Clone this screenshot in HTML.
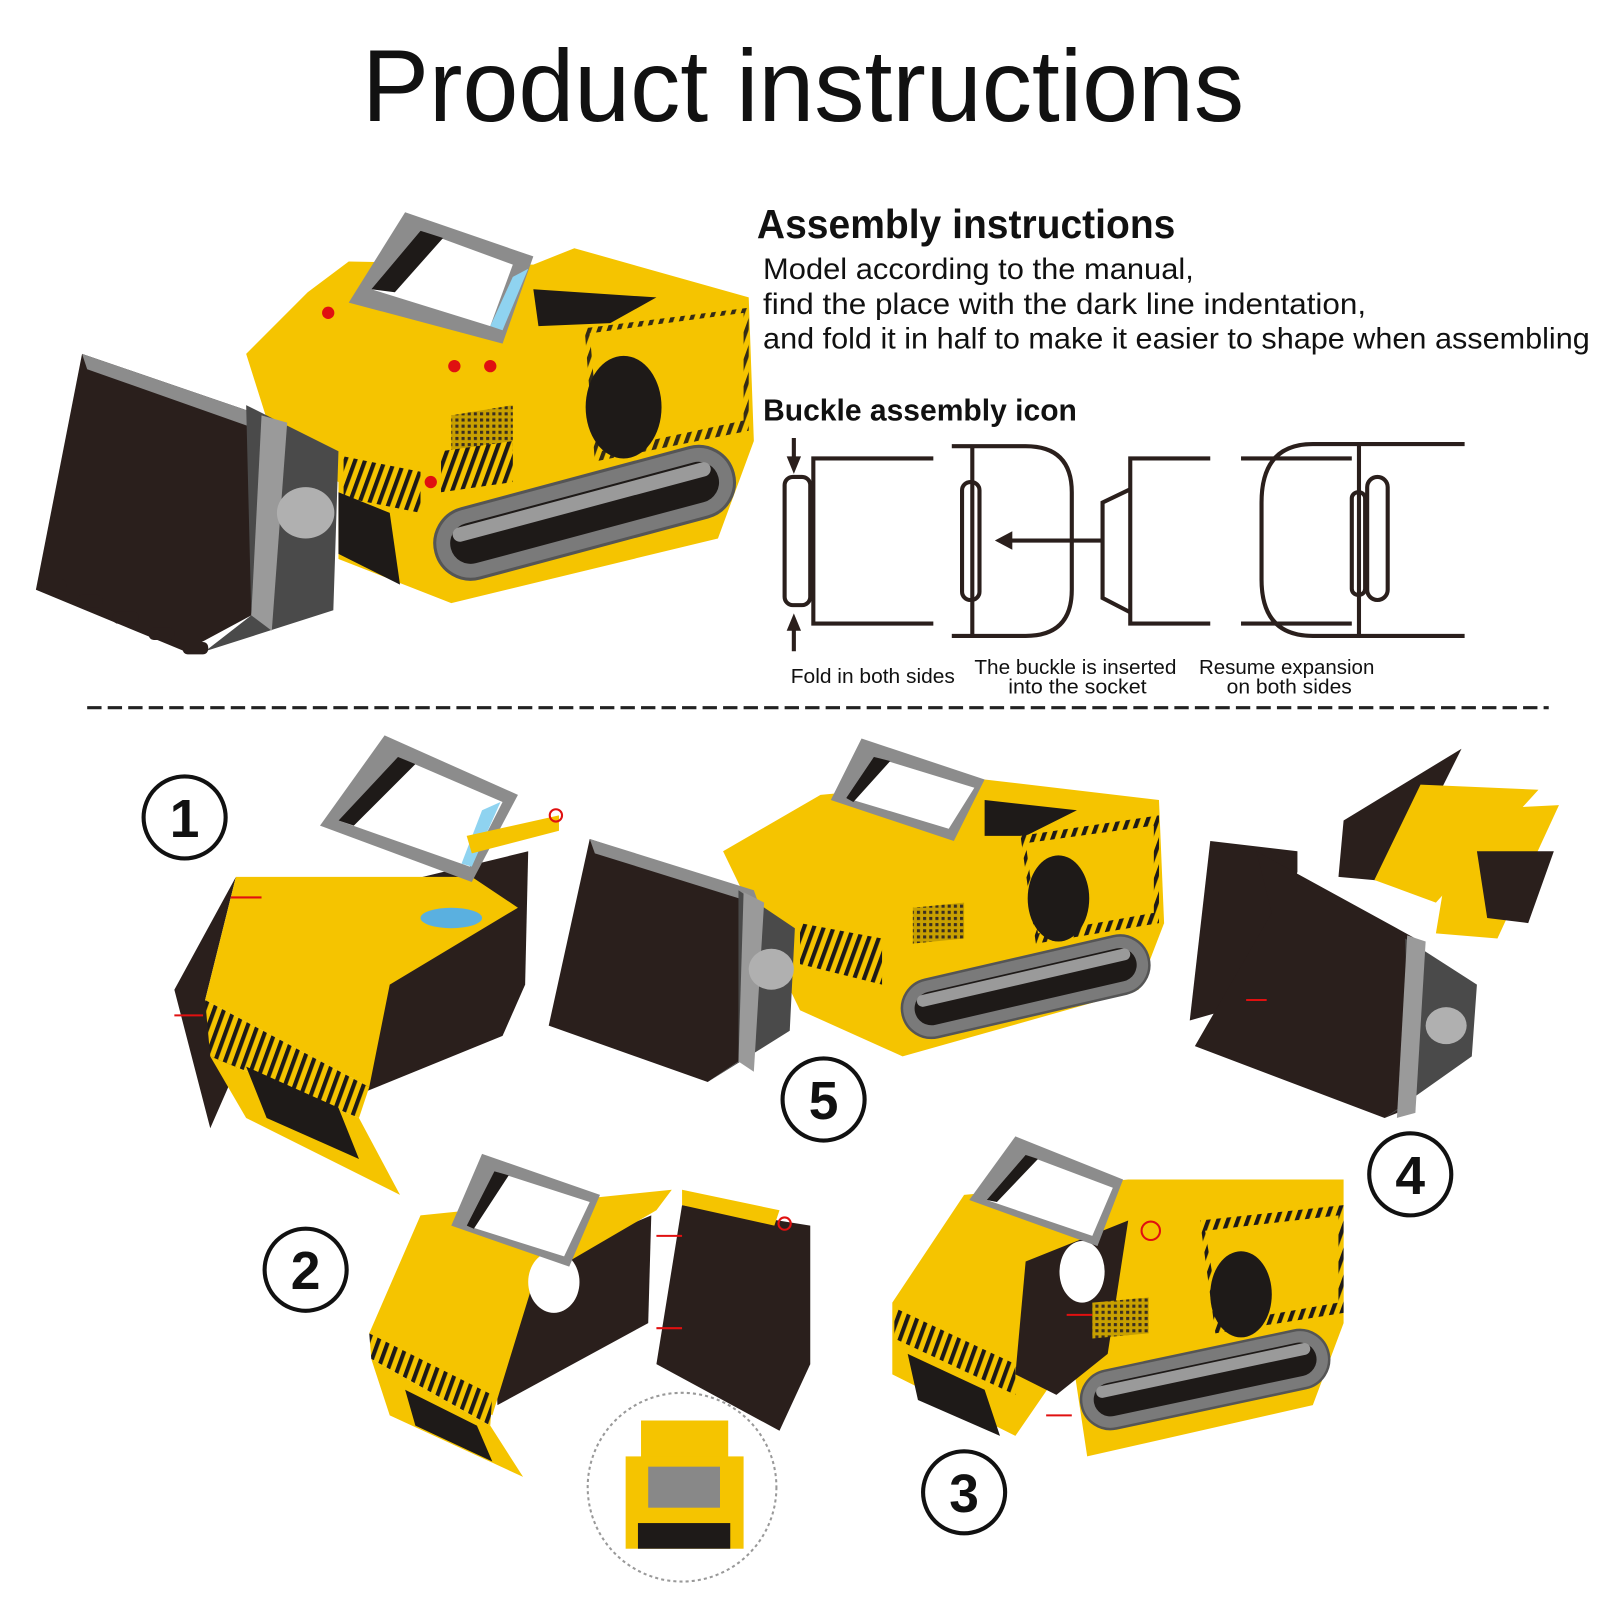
<!DOCTYPE html>
<html><head><meta charset="utf-8"><style>
html,body{margin:0;padding:0;background:#fff;}
svg{display:block;}
text{font-family:"Liberation Sans",sans-serif;fill:#111;}
</style></head><body>
<svg width="1600" height="1600" viewBox="0 0 1560 1560" preserveAspectRatio="none" xmlns="http://www.w3.org/2000/svg">
<defs>
<pattern id="hz" width="9" height="9" patternUnits="userSpaceOnUse" patternTransform="rotate(20)">
<rect width="9" height="9" fill="#f5c400"/><rect width="4" height="9" fill="#1e1a18"/></pattern>
<pattern id="gr" width="6" height="6" patternUnits="userSpaceOnUse">
<rect width="6" height="6" fill="#c8a000"/><rect width="3" height="3" fill="#3a2e20"/></pattern>
<g id="trk">
<rect x="-150" y="-35" width="300" height="70" rx="35" fill="#7a7a7a" stroke="#555" stroke-width="3"/>
<rect x="-135" y="-20" width="270" height="40" rx="20" fill="#1e1a18"/>
<rect x="-130" y="-18" width="260" height="14" rx="7" fill="#9a9a9a"/>
</g>
</defs>

<text x="783" y="118" font-size="100" text-anchor="middle" textLength="860" lengthAdjust="spacingAndGlyphs">Product instructions</text>

<text x="738" y="232" font-size="40" font-weight="bold" textLength="408" lengthAdjust="spacingAndGlyphs">Assembly instructions</text>
<text x="744" y="272" font-size="29" textLength="420" lengthAdjust="spacingAndGlyphs">Model according to the manual,</text>
<text x="744" y="306" font-size="29" textLength="588" lengthAdjust="spacingAndGlyphs">find the place with the dark line indentation,</text>
<text x="744" y="340" font-size="29" textLength="806" lengthAdjust="spacingAndGlyphs">and fold it in half to make it easier to shape when assembling</text>
<text x="744" y="410" font-size="30" font-weight="bold" textLength="306" lengthAdjust="spacingAndGlyphs">Buckle assembly icon</text>

<!-- buckle diagram -->
<g fill="none" stroke="#2a1f1c" stroke-width="4">
<path d="M910 447 H793 V608 H910"/>
<rect x="765" y="465" width="25" height="125" rx="8"/>
<path d="M774 427 V455 M774 635 V605"/>
<path d="M928 435 H1000 Q1045 435 1045 480 V575 Q1045 620 1000 620 H928"/>
<path d="M948 435 V620"/>
<rect x="938" y="470" width="17" height="115" rx="8"/>
<path d="M1075 527 H985"/>
<path d="M1180 447 H1102 V608 H1180"/>
<path d="M1102 477 L1075 490 V583 L1102 597"/>
<path d="M1210 447 H1318 M1210 608 H1318"/>
<path d="M1428 433 H1280 Q1230 433 1230 490 V565 Q1230 620 1280 620 H1428"/>
<path d="M1325 433 V620"/>
<rect x="1318" y="480" width="13" height="100" rx="6"/>
<rect x="1333" y="465" width="20" height="120" rx="10"/>
</g>
<polygon points="774,462 767,445 781,445" fill="#2a1f1c"/>
<polygon points="774,598 767,615 781,615" fill="#2a1f1c"/>
<polygon points="970,527 987,518 987,536" fill="#2a1f1c"/>
<text x="771" y="666" font-size="20" textLength="160" lengthAdjust="spacingAndGlyphs">Fold in both sides</text>
<text x="950" y="657" font-size="20" textLength="197" lengthAdjust="spacingAndGlyphs">The buckle is inserted</text>
<text x="983" y="676" font-size="20" textLength="135" lengthAdjust="spacingAndGlyphs">into the socket</text>
<text x="1169" y="657" font-size="20" textLength="171" lengthAdjust="spacingAndGlyphs">Resume expansion</text>
<text x="1196" y="676" font-size="20" textLength="122" lengthAdjust="spacingAndGlyphs">on both sides</text>

<line x1="85" y1="690" x2="1510" y2="690" stroke="#222" stroke-width="3" stroke-dasharray="14 6"/>

<!-- top bulldozer -->
<polygon points="240,345 300,285 340,255 520,258 560,242 730,290 735,430 700,525 440,588 330,545 330,470 270,440" fill="#f5c400"/>
<polygon points="520,282 640,290 595,315 525,318" fill="#1e1a18"/>
<polygon points="570,320 730,300 730,420 580,450" fill="url(#hz)" opacity="0.9"/>
<polygon points="575,325 725,305 725,410 585,440" fill="#f5c400"/>
<ellipse cx="608" cy="397" rx="37" ry="50" fill="#1e1a18"/>
<polygon points="440,405 500,395 500,440 440,450" fill="url(#gr)"/>
<polygon points="335,445 410,460 410,500 335,485" fill="url(#hz)"/>
<polygon points="430,440 500,430 500,470 430,480" fill="url(#hz)"/>
<polygon points="330,480 380,500 390,570 330,540" fill="#1e1a18"/>
<g transform="translate(570,500) rotate(-15)"><use href="#trk"/></g>
<polygon points="395,207 520,250 490,335 340,295" fill="#8c8c8c"/>
<polygon points="410,225 500,258 478,318 362,282" fill="#fff"/>
<polygon points="410,225 432,232 385,285 362,282" fill="#1e1a18"/>
<polygon points="500,270 515,262 490,322 478,318" fill="#8fd3f0"/>
<polygon points="80,345 255,405 245,600 180,635 35,575" fill="#2a1f1c"/>
<polygon points="80,345 255,405 255,420 85,360" fill="#8c8c8c"/>
<polygon points="240,395 270,410 330,440 325,595 200,635 245,600" fill="#4a4a4a"/>
<polygon points="255,405 280,412 265,615 245,600" fill="#9a9a9a"/>
<ellipse cx="298" cy="500" rx="28" ry="25" fill="#b0b0b0"/>
<g fill="#2a1f1c"><rect x="40" y="565" width="25" height="12" rx="5"/><rect x="75" y="580" width="25" height="12" rx="5"/><rect x="110" y="596" width="25" height="12" rx="5"/><rect x="145" y="612" width="25" height="12" rx="5"/><rect x="178" y="626" width="25" height="12" rx="5"/></g>
<g fill="#e01010"><circle cx="320" cy="305" r="6"/><circle cx="443" cy="357" r="6"/><circle cx="478" cy="357" r="6"/><circle cx="420" cy="470" r="6"/></g>

<!-- scene 1 -->
<polygon points="350,870 515,830 512,960 490,1010 355,1065" fill="#2a1f1c"/>
<polygon points="230,855 170,965 205,1100 240,1020 200,975" fill="#2a1f1c"/>
<polygon points="230,855 460,855 505,885 380,960 360,1060 200,975" fill="#f5c400"/>
<polygon points="200,975 360,1060 350,1090 205,1030" fill="url(#hz)"/>
<polygon points="205,1030 350,1090 390,1165 240,1090" fill="#f5c400"/>
<polygon points="240,1040 330,1080 350,1130 260,1090" fill="#1e1a18"/>
<polygon points="375,717 505,775 460,860 312,805" fill="#8c8c8c"/>
<polygon points="388,738 490,782 458,845 330,800" fill="#fff"/>
<polygon points="388,738 405,745 345,805 330,800" fill="#1e1a18"/>
<polygon points="470,790 488,782 460,845 450,842" fill="#8fd3f0"/>
<polygon points="455,815 545,795 545,810 460,832" fill="#f5c400"/>
<ellipse cx="440" cy="895" rx="30" ry="10" fill="#5ab0e0"/>

<!-- scene 5 -->
<polygon points="705,830 800,775 960,760 1130,780 1135,900 1110,965 880,1030 780,985" fill="#f5c400"/>
<polygon points="960,780 1050,790 1000,815 960,815" fill="#1e1a18"/>
<polygon points="995,815 1130,795 1130,900 1010,920" fill="url(#hz)"/>
<polygon points="1000,822 1125,805 1125,890 1012,910" fill="#f5c400"/>
<ellipse cx="1032" cy="876" rx="30" ry="42" fill="#1e1a18"/>
<polygon points="890,885 940,880 940,915 890,920" fill="url(#gr)"/>
<polygon points="780,900 860,915 860,960 780,940" fill="url(#hz)"/>
<g transform="translate(1000,962) rotate(-13) scale(0.82)"><use href="#trk"/></g>
<polygon points="840,720 960,760 930,820 810,780" fill="#8c8c8c"/>
<polygon points="852,738 950,768 925,808 825,778" fill="#fff"/>
<polygon points="852,738 868,742 832,782 825,778" fill="#1e1a18"/>
<polygon points="575,818 730,870 720,1035 690,1055 535,1000" fill="#2a1f1c"/>
<polygon points="575,818 735,868 740,882 580,832" fill="#8c8c8c"/>
<polygon points="720,868 775,905 770,1005 690,1055 720,1035" fill="#4a4a4a"/>
<polygon points="725,870 745,880 735,1045 720,1035" fill="#9a9a9a"/>
<ellipse cx="752" cy="945" rx="22" ry="20" fill="#b0b0b0"/>

<!-- scene 4 -->
<polygon points="1180,820 1265,830 1265,850 1230,975 1160,995" fill="#2a1f1c"/>
<polygon points="1225,830 1380,915 1375,1080 1350,1090 1165,1020 1240,890" fill="#2a1f1c"/>
<polygon points="1370,915 1440,960 1435,1030 1350,1090 1375,1075" fill="#4a4a4a"/>
<polygon points="1372,912 1390,918 1380,1085 1362,1090" fill="#9a9a9a"/>
<ellipse cx="1410" cy="1000" rx="20" ry="18" fill="#b0b0b0"/>
<polygon points="1310,800 1425,730 1360,860 1305,855" fill="#2a1f1c"/>
<polygon points="1340,858 1385,765 1500,770 1400,880" fill="#f5c400"/>
<polygon points="1400,910 1420,790 1520,785 1460,915" fill="#f5c400"/>
<polygon points="1440,830 1515,830 1490,900 1450,895" fill="#2a1f1c"/>

<!-- scene 2 -->
<polygon points="480,1250 635,1185 632,1290 485,1370" fill="#2a1f1c"/>
<polygon points="665,1175 790,1195 790,1330 760,1395 640,1330" fill="#2a1f1c"/>
<polygon points="665,1160 760,1180 755,1195 665,1175" fill="#f5c400"/>
<polygon points="410,1185 655,1160 640,1180 520,1250 480,1380 360,1300" fill="#f5c400"/>
<polygon points="360,1300 480,1360 478,1390 362,1325" fill="url(#hz)"/>
<polygon points="362,1325 478,1390 510,1440 380,1380" fill="#f5c400"/>
<polygon points="395,1355 465,1390 480,1425 405,1390" fill="#1e1a18"/>
<ellipse cx="540" cy="1250" rx="25" ry="30" fill="#fff"/>
<polygon points="470,1125 585,1165 555,1235 440,1195" fill="#8c8c8c"/>
<polygon points="482,1142 575,1172 550,1225 455,1195" fill="#fff"/>
<polygon points="482,1142 496,1146 462,1198 455,1195" fill="#1e1a18"/>
<circle cx="665" cy="1450" r="92" fill="#fff" stroke="#999" stroke-width="2" stroke-dasharray="3 3"/>
<rect x="625" y="1385" width="85" height="40" fill="#f5c400"/>
<rect x="610" y="1420" width="115" height="90" fill="#f5c400"/>
<rect x="632" y="1430" width="70" height="40" fill="#888"/>
<rect x="622" y="1485" width="90" height="25" fill="#1e1a18"/>

<!-- scene 3 -->
<polygon points="870,1270 940,1165 1100,1150 1310,1150 1310,1290 1280,1370 1060,1420 1045,1320 990,1400 870,1340" fill="#f5c400"/>
<polygon points="1000,1230 1100,1190 1080,1320 1030,1360 990,1340" fill="#2a1f1c"/>
<ellipse cx="1055" cy="1240" rx="22" ry="30" fill="#fff"/>
<polygon points="1170,1190 1310,1175 1310,1280 1185,1300" fill="url(#hz)"/>
<polygon points="1175,1200 1305,1185 1305,1270 1190,1290" fill="#f5c400"/>
<ellipse cx="1210" cy="1262" rx="30" ry="42" fill="#1e1a18"/>
<polygon points="1065,1270 1120,1265 1120,1300 1065,1305" fill="url(#gr)"/>
<polygon points="872,1275 990,1330 990,1360 872,1305" fill="url(#hz)"/>
<polygon points="885,1320 960,1355 975,1400 895,1365" fill="#1e1a18"/>
<g transform="translate(1175,1345) rotate(-12) scale(0.82)"><use href="#trk"/></g>
<polygon points="990,1108 1095,1150 1070,1215 945,1170" fill="#8c8c8c"/>
<polygon points="1000,1126 1085,1158 1065,1205 962,1170" fill="#fff"/>
<polygon points="1000,1126 1012,1130 972,1172 962,1170" fill="#1e1a18"/>

<!-- red arrows -->
<g stroke="#e01010" stroke-width="2" fill="none">
<path d="M225 875 H255 M170 990 H198 M1040 1282 H1065 M1020 1380 H1045 M640 1205 H665 M640 1295 H665 M1215 975 H1235"/>
<circle cx="542" cy="795" r="6"/><circle cx="765" cy="1193" r="6"/><circle cx="1122" cy="1200" r="9"/>
</g>

<!-- numbers -->
<g fill="#fff" stroke="#111" stroke-width="4">
<circle cx="180" cy="797" r="40"/><circle cx="803" cy="1072" r="40"/><circle cx="1375" cy="1145" r="40"/><circle cx="298" cy="1238" r="40"/><circle cx="940" cy="1455" r="40"/>
</g>
<g font-size="52" font-weight="bold" text-anchor="middle">
<text x="180" y="816">1</text><text x="803" y="1091">5</text><text x="1375" y="1164">4</text><text x="298" y="1257">2</text><text x="940" y="1474">3</text>
</g>
</svg>
</body></html>
